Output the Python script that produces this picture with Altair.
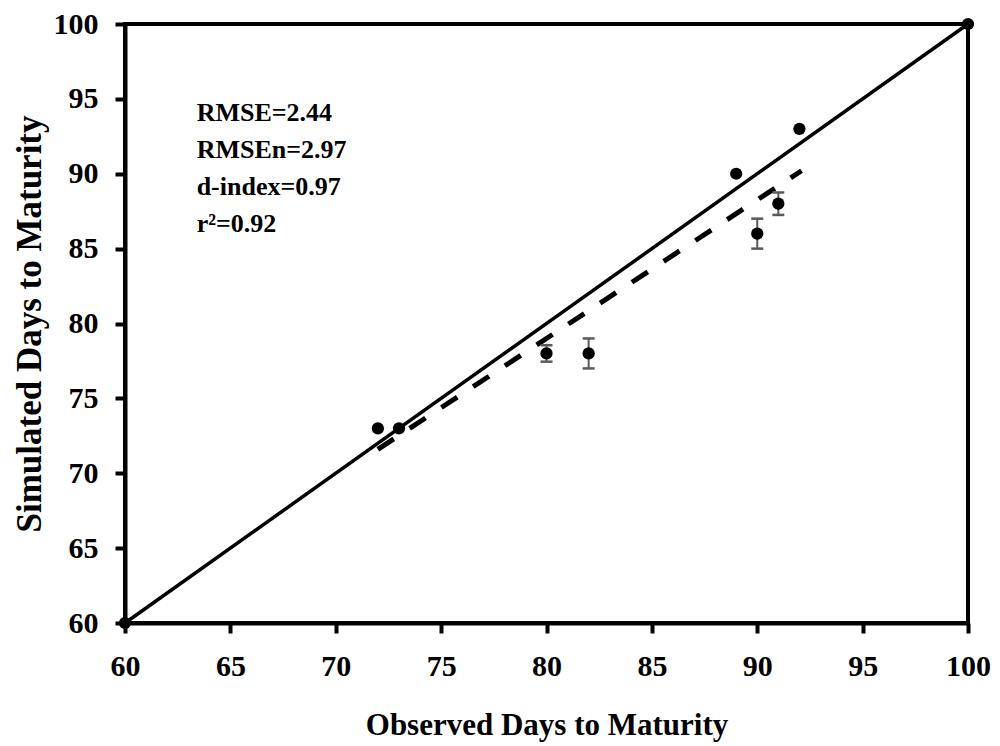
import altair as alt
import pandas as pd

# ---- data ----
observed = [72, 73, 80, 82, 89, 90, 91, 92]
simulated = [73, 73, 78, 78, 90, 86, 88, 93]
sim_error = [0, 0, 0.55, 1.0, 0, 1.0, 0.75, 0]

one_x = [60, 100]
one_y = [60, 100]

reg_x = [72, 92.1]
reg_y = [71.6, 90.2]

stats_lines = ["RMSE=2.44", "RMSEn=2.97", "d-index=0.97", "r\u00b2=0.92"]
stats_x = [63.4]
stats_y = [93.5]

tick_values = list(range(60, 101, 5))

FONT = "Liberation Serif"

pts = pd.DataFrame({"obs": observed, "sim": simulated, "err": sim_error})
pts["lo"] = pts["sim"] - pts["err"]
pts["hi"] = pts["sim"] + pts["err"]
err_df = pts[pts["err"] > 0]

one_df = pd.DataFrame({"obs": one_x, "sim": one_y})
reg_df = pd.DataFrame({"obs": reg_x, "sim": reg_y})
txt_df = pd.DataFrame({"obs": stats_x, "sim": stats_y})

xs = alt.Scale(domain=[60, 100], nice=False, zero=False)
ys = alt.Scale(domain=[60, 100], nice=False, zero=False)

common_axis = dict(
    values=tick_values, grid=False,
    domainColor="black", domainWidth=4,
    tickColor="black", tickWidth=4, tickSize=10,
    labelFont=FONT, labelFontSize=30, labelFontWeight="bold", labelColor="black",
    labelFlush=False, labelOverlap=False,
    titleFont=FONT, titleFontWeight="bold", titleColor="black",
)

x_axis = alt.Axis(title="Observed Days to Maturity", labelPadding=18,
                  titleFontSize=31, titleY=111, titleBaseline="alphabetic",
                  **common_axis)
y_axis = alt.Axis(title="Simulated Days to Maturity", labelPadding=17,
                  titleFontSize=35, titleAngle=270, titleX=-85, titleY=299.5,
                  titleAlign="center", titleBaseline="alphabetic",
                  **common_axis)

X = alt.X("obs:Q", scale=xs, axis=x_axis)
Y = alt.Y("sim:Q", scale=ys, axis=y_axis)

one_line = alt.Chart(one_df).mark_line(
    color="black", strokeWidth=3.5,
    point=alt.OverlayMarkDef(filled=True, size=150, color="black", opacity=1),
).encode(x=X, y=Y)

reg_line = alt.Chart(reg_df).mark_line(
    color="black", strokeWidth=5, strokeDash=[19, 19]
).encode(x=X, y=Y)

err_rule = alt.Chart(err_df).mark_rule(color="#5a5a5a", strokeWidth=2).encode(
    x=X, y=alt.Y("lo:Q", scale=ys, axis=y_axis), y2="hi:Q"
)
cap_lo = alt.Chart(err_df).mark_point(
    shape="M-1,0L1,0", size=144, strokeWidth=2.5, color="#5a5a5a", filled=False, opacity=1
).encode(x=X, y=alt.Y("lo:Q", scale=ys, axis=y_axis))
cap_hi = alt.Chart(err_df).mark_point(
    shape="M-1,0L1,0", size=144, strokeWidth=2.5, color="#5a5a5a", filled=False, opacity=1
).encode(x=X, y=alt.Y("hi:Q", scale=ys, axis=y_axis))

points = alt.Chart(pts).mark_circle(size=150, color="black", opacity=1).encode(x=X, y=Y)

stats = alt.Chart(txt_df).mark_text(
    text=stats_lines, align="left", baseline="alphabetic", font=FONT,
    fontSize=26, fontWeight="bold", color="black", lineHeight=37,
).encode(x=X, y=Y)

chart = alt.layer(one_line, reg_line, err_rule, cap_lo, cap_hi, points, stats).properties(
    width=843, height=599,
    autosize=alt.AutoSizeParams(type="none"),
    padding={"left": 117, "top": 16, "right": 24, "bottom": 122},
    background="white",
).configure_view(stroke="black", strokeWidth=4)

chart.save("out.html", embed_options={"renderer": "svg", "actions": False})
